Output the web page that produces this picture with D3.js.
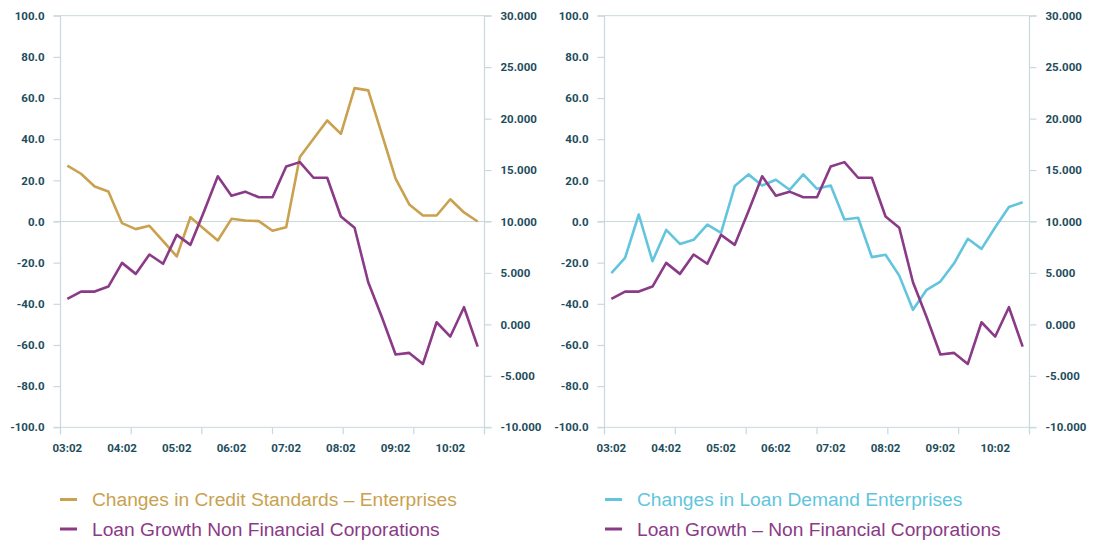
<!DOCTYPE html>
<html>
<head>
<meta charset="utf-8">
<script src="https://cdn.jsdelivr.net/npm/d3@7"></script>
<style>
  html, body { margin: 0; padding: 0; background: #fff; }
  svg { display: block; }
  .tick-label { font-family: Roboto, "Liberation Sans", sans-serif; font-weight: 700; font-size: 11.5px; fill: #1d4d5c; }
  .legend-label { font-family: "Liberation Sans", Arial, sans-serif; font-size: 19.2px; }
</style>
</head>
<body>
<svg id="chart" width="1093" height="540"></svg>
<script>
// Quarterly periods, YY:QQ
const quarters = [
  "03:02","03:03","03:04","04:01","04:02","04:03","04:04","05:01","05:02","05:03","05:04",
  "06:01","06:02","06:03","06:04","07:01","07:02","07:03","07:04","08:01","08:02","08:03",
  "08:04","09:01","09:02","09:03","09:04","10:01","10:02","10:03","10:04"
];
const quarterLabels = ["03:02","04:02","05:02","06:02","07:02","08:02","09:02","10:02"];

// Net percentages (left axis)
const creditStandards = [
  27.2, 23.2, 17.0, 14.6, -0.8, -3.7, -2.1, -9.5, -17.0, 2.1, -3.6,
  -9.2, 1.3, 0.5, 0.2, -4.5, -2.8, 31.3, 40.2, 49.1, 42.6, 64.8,
  63.7, 42.3, 20.8, 8.3, 2.9, 2.9, 10.8, 4.4, 0.0
];
const loanDemand = [
  -25.1, -17.7, 3.4, -19.3, -4.1, -10.9, -8.9, -1.5, -5.5, 17.2, 22.9,
  17.5, 20.3, 15.4, 22.9, 15.9, 17.5, 1.0, 1.8, -17.3, -16.2, -26.3,
  -42.9, -33.2, -29.2, -20.3, -8.4, -13.3, -2.8, 7.0, 9.4
];
// Annual loan growth, % (right axis)
const loanGrowth = [
  2.48, 3.19, 3.19, 3.68, 5.98, 4.91, 6.79, 5.89, 8.70, 7.73, 11.0,
  14.4, 12.5, 12.9, 12.36, 12.36, 15.35, 15.77, 14.25, 14.25, 10.49, 9.39,
  4.10, 0.69, -2.93, -2.77, -3.84, 0.21, -1.18, 1.67, -2.16
];

const leftTicks = [-100, -80, -60, -40, -20, 0, 20, 40, 60, 80, 100];
const rightTicks = [-10, -5, 0, 5, 10, 15, 20, 25, 30];

const colors = { gold: "#c9a14f", purple: "#8b3a87", cyan: "#62c5dd", axis: "#c9d9dc" };

// plain hyphen for negative numbers
const locale = d3.formatLocale({ decimal: ".", thousands: ",", grouping: [3], currency: ["", ""], minus: "-" });

const panels = [
  {
    x0: 60.5, x1: 484.5,
    series: [
      { values: creditStandards, axis: "left", color: colors.gold, name: "Changes in Credit Standards \u2013 Enterprises" },
      { values: loanGrowth, axis: "right", color: colors.purple, name: "Loan Growth Non Financial Corporations" }
    ],
    legendX: 60
  },
  {
    x0: 604.5, x1: 1029.5,
    series: [
      { values: loanDemand, axis: "left", color: colors.cyan, name: "Changes in Loan Demand Enterprises" },
      { values: loanGrowth, axis: "right", color: colors.purple, name: "Loan Growth \u2013 Non Financial Corporations" }
    ],
    legendX: 605
  }
];

const plotTop = 15.7, plotBottom = 427.3;
const svg = d3.select("#chart");

panels.forEach(p => {
  const g = svg.append("g");
  const x = d3.scaleBand().domain(quarters).range([p.x0, p.x1]).padding(0);
  const yL = d3.scaleLinear().domain([-100, 100]).range([plotBottom, plotTop]);
  const yR = d3.scaleLinear().domain([-10, 30]).range([plotBottom, plotTop]);
  const cx = d => x(d) + x.bandwidth() / 2;

  // horizontal rules at top, zero and bottom
  [100, 0, -100].forEach(v => {
    g.append("line")
      .attr("x1", p.x0 - 7).attr("x2", p.x1 + 7)
      .attr("y1", yL(v)).attr("y2", yL(v))
      .attr("stroke", colors.axis).attr("stroke-width", 1);
  });

  // vertical axis lines
  g.append("line").attr("x1", p.x0).attr("x2", p.x0).attr("y1", plotTop).attr("y2", plotBottom + 7)
    .attr("stroke", colors.axis).attr("stroke-width", 1.2);
  g.append("line").attr("x1", p.x1).attr("x2", p.x1).attr("y1", plotTop).attr("y2", plotBottom + 7)
    .attr("stroke", colors.axis).attr("stroke-width", 1.2);

  // left axis
  const left = g.append("g").attr("transform", `translate(${p.x0},0)`)
    .call(d3.axisLeft(yL).tickValues(leftTicks).tickSize(7).tickPadding(9).tickFormat(locale.format(".1f")));
  left.select(".domain").remove();
  left.selectAll(".tick line").attr("stroke", colors.axis).attr("stroke-width", 1.2);
  left.selectAll(".tick text").attr("class", "tick-label").attr("font-size", null).attr("font-family", null).attr("fill", null);

  // right axis
  const right = g.append("g").attr("transform", `translate(${p.x1},0)`)
    .call(d3.axisRight(yR).tickValues(rightTicks).tickSize(7).tickPadding(9).tickFormat(locale.format(".3f")));
  right.select(".domain").remove();
  right.selectAll(".tick line").attr("stroke", colors.axis).attr("stroke-width", 1.2);
  right.selectAll(".tick text").attr("class", "tick-label").attr("font-size", null).attr("font-family", null).attr("fill", null);

  // x axis tick marks, six equal divisions
  const xt = d3.scaleLinear().domain([0, 6]).range([p.x0, p.x1]);
  g.selectAll(".xtick").data(d3.range(7)).join("line")
    .attr("x1", d => xt(d)).attr("x2", d => xt(d))
    .attr("y1", plotBottom).attr("y2", plotBottom + 7)
    .attr("stroke", colors.axis).attr("stroke-width", 1.2);

  // x labels, one per year
  g.selectAll(".xlabel").data(quarterLabels).join("text")
    .attr("class", "tick-label")
    .attr("x", d => cx(d)).attr("y", 452)
    .attr("text-anchor", "middle")
    .text(d => d);

  // series lines
  p.series.forEach(s => {
    const y = s.axis === "left" ? yL : yR;
    const line = d3.line().x((d, i) => cx(quarters[i])).y(d => y(d));
    g.append("path").datum(s.values)
      .attr("d", line)
      .attr("fill", "none")
      .attr("stroke", s.color)
      .attr("stroke-width", 2.6)
      .attr("stroke-linejoin", "round");
  });

  // legend
  p.series.forEach((s, i) => {
    const ly = 499.5 + i * 29.5;
    g.append("line")
      .attr("x1", p.legendX).attr("x2", p.legendX + 17)
      .attr("y1", ly).attr("y2", ly)
      .attr("stroke", s.color).attr("stroke-width", 3);
    g.append("text")
      .attr("class", "legend-label")
      .attr("x", p.legendX + 32).attr("y", ly + 6.5)
      .attr("fill", s.color)
      .text(s.name);
  });
});
</script>
</body>
</html>
